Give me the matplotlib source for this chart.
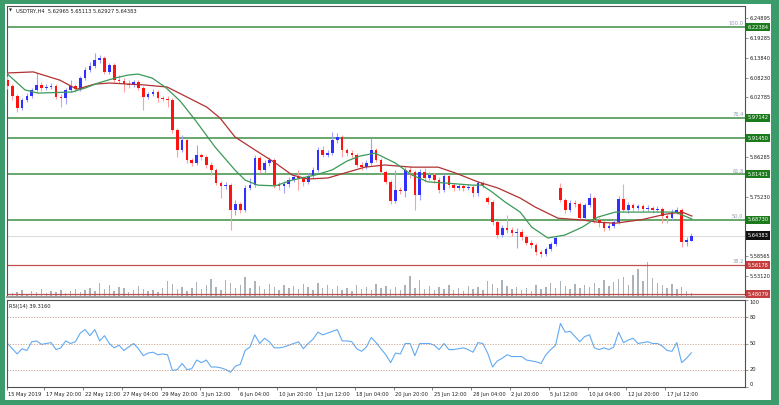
import numpy as np
import matplotlib
matplotlib.use('Agg')
import matplotlib.pyplot as plt
from matplotlib.patches import Rectangle
from matplotlib.transforms import ScaledTranslation

W, H = 779, 405

# USDTRY H4 candles (two 4H bars per candle)
opens = [6.076, 6.060, 6.032, 5.999, 6.021, 6.032, 6.049, 6.063, 6.054, 6.057,
         6.060, 6.029, 6.026, 6.049, 6.060, 6.051, 6.082, 6.104, 6.115, 6.132,
         6.138, 6.099, 6.118, 6.076, 6.074, 6.065, 6.063, 6.071, 6.054, 6.029,
         6.038, 6.043, 6.026, 6.024, 6.021, 5.937, 5.882, 5.910, 5.854, 5.846,
         5.868, 5.862, 5.840, 5.826, 5.790, 5.782, 5.784, 5.715, 5.731, 5.715,
         5.776, 5.784, 5.860, 5.826, 5.846, 5.854, 5.784, 5.782, 5.787, 5.798,
         5.807, 5.804, 5.793, 5.809, 5.826, 5.882, 5.868, 5.873, 5.910, 5.918,
         5.882, 5.873, 5.868, 5.840, 5.834, 5.846, 5.882, 5.854, 5.821, 5.793,
         5.740, 5.770, 5.768, 5.826, 5.821, 5.757, 5.821, 5.804, 5.812, 5.798,
         5.770, 5.809, 5.784, 5.776, 5.782, 5.776, 5.779, 5.762, 5.790, 5.748,
         5.737, 5.681, 5.645, 5.665, 5.659, 5.651, 5.654, 5.640, 5.623, 5.617,
         5.598, 5.593, 5.606, 5.620, 5.776, 5.743, 5.715, 5.734, 5.731, 5.692,
         5.729, 5.748, 5.687, 5.679, 5.665, 5.670, 5.681, 5.745, 5.715, 5.729,
         5.720, 5.726, 5.718, 5.720, 5.715, 5.718, 5.698, 5.692, 5.709, 5.715,
         5.626, 5.62965]
highs = [6.088, 6.065, 6.038, 6.026, 6.040, 6.054, 6.096, 6.071, 6.065, 6.068,
         6.065, 6.038, 6.054, 6.076, 6.065, 6.088, 6.113, 6.127, 6.152, 6.146,
         6.143, 6.124, 6.124, 6.090, 6.082, 6.076, 6.076, 6.076, 6.060, 6.043,
         6.051, 6.049, 6.032, 6.032, 6.026, 5.943, 5.923, 5.915, 5.860, 5.896,
         5.873, 5.868, 5.848, 5.832, 5.795, 5.793, 5.790, 5.743, 5.737, 5.784,
         5.804, 5.868, 5.865, 5.854, 5.862, 5.860, 5.793, 5.795, 5.807, 5.815,
         5.826, 5.809, 5.818, 5.834, 5.890, 5.893, 5.882, 5.932, 5.929, 5.923,
         5.887, 5.882, 5.873, 5.848, 5.854, 5.915, 5.887, 5.860, 5.826, 5.798,
         5.826, 5.779, 5.834, 5.837, 5.826, 5.829, 5.832, 5.821, 5.818, 5.807,
         5.815, 5.815, 5.790, 5.787, 5.787, 5.787, 5.784, 5.795, 5.795, 5.754,
         5.743, 5.687, 5.673, 5.701, 5.667, 5.665, 5.662, 5.645, 5.631, 5.623,
         5.604, 5.612, 5.626, 5.643, 5.790, 5.748, 5.743, 5.743, 5.737, 5.734,
         5.762, 5.754, 5.695, 5.684, 5.679, 5.690, 5.754, 5.787, 5.737, 5.734,
         5.731, 5.731, 5.729, 5.726, 5.726, 5.723, 5.704, 5.718, 5.723, 5.720,
         5.640, 5.65113]
lows = [6.051, 6.021, 5.987, 5.993, 6.015, 6.026, 6.043, 6.046, 6.049, 6.051,
        6.024, 6.001, 6.010, 6.043, 6.043, 6.046, 6.076, 6.099, 6.110, 6.124,
        6.093, 6.093, 6.071, 6.068, 6.043, 6.054, 6.057, 6.049, 5.993, 6.024,
        6.032, 6.015, 6.018, 6.001, 5.929, 5.862, 5.876, 5.846, 5.837, 5.840,
        5.854, 5.832, 5.812, 5.784, 5.748, 5.773, 5.659, 5.701, 5.706, 5.709,
        5.770, 5.779, 5.818, 5.818, 5.837, 5.776, 5.770, 5.762, 5.779, 5.793,
        5.770, 5.782, 5.787, 5.804, 5.821, 5.862, 5.862, 5.868, 5.901, 5.862,
        5.865, 5.860, 5.834, 5.826, 5.829, 5.840, 5.848, 5.815, 5.787, 5.731,
        5.734, 5.759, 5.751, 5.804, 5.715, 5.743, 5.793, 5.798, 5.790, 5.762,
        5.765, 5.776, 5.768, 5.770, 5.768, 5.770, 5.751, 5.754, 5.776, 5.731,
        5.673, 5.637, 5.640, 5.651, 5.643, 5.609, 5.631, 5.617, 5.609, 5.590,
        5.584, 5.587, 5.601, 5.615, 5.737, 5.706, 5.709, 5.723, 5.684, 5.687,
        5.723, 5.679, 5.667, 5.656, 5.659, 5.665, 5.676, 5.709, 5.706, 5.712,
        5.715, 5.709, 5.712, 5.706, 5.709, 5.679, 5.679, 5.687, 5.704, 5.612,
        5.615, 5.62927]
closes = [6.060, 6.032, 5.999, 6.021, 6.032, 6.049, 6.063, 6.054, 6.057, 6.060,
          6.029, 6.026, 6.049, 6.060, 6.051, 6.082, 6.104, 6.115, 6.132, 6.138,
          6.099, 6.118, 6.076, 6.074, 6.065, 6.063, 6.071, 6.054, 6.029, 6.038,
          6.043, 6.026, 6.024, 6.021, 5.937, 5.882, 5.910, 5.854, 5.846, 5.868,
          5.862, 5.840, 5.826, 5.790, 5.782, 5.784, 5.715, 5.731, 5.715, 5.776,
          5.784, 5.860, 5.826, 5.846, 5.854, 5.784, 5.782, 5.787, 5.798, 5.807,
          5.804, 5.793, 5.809, 5.826, 5.882, 5.868, 5.873, 5.910, 5.918, 5.882,
          5.873, 5.868, 5.840, 5.834, 5.846, 5.882, 5.854, 5.821, 5.793, 5.740,
          5.770, 5.768, 5.826, 5.821, 5.757, 5.821, 5.804, 5.812, 5.798, 5.770,
          5.809, 5.784, 5.776, 5.782, 5.776, 5.779, 5.762, 5.790, 5.784, 5.737,
          5.681, 5.645, 5.665, 5.659, 5.651, 5.654, 5.640, 5.623, 5.617, 5.598,
          5.593, 5.606, 5.620, 5.637, 5.743, 5.715, 5.734, 5.731, 5.692, 5.729,
          5.748, 5.687, 5.679, 5.665, 5.670, 5.681, 5.745, 5.715, 5.729, 5.720,
          5.726, 5.718, 5.720, 5.715, 5.718, 5.698, 5.692, 5.709, 5.715, 5.626,
          5.631, 5.64383]
volumes = [600, 400, 500, 700, 300, 600, 500, 800, 400, 600,
           500, 700, 400, 600, 800, 500, 700, 900, 600, 1400,
           800, 1200, 600, 1000, 900, 500, 700, 1100, 800, 600,
           700, 500, 900, 1600, 1300, 800, 1000, 600, 900, 1500,
           800, 1200, 1800, 1000, 700, 1700, 1400, 900, 1200, 2000,
           900, 1600, 1100, 800, 1300, 1000, 700, 1200, 900, 1100,
           800, 1300, 1000, 700, 1400, 900, 1200, 800, 1100, 700,
           900, 600, 1200, 800, 1000, 700, 1300, 900, 1100, 800,
           1000, 700, 1200, 2100, 900, 1700, 800, 1100, 700, 1000,
           800, 1200, 700, 900, 600, 1100, 800, 1000, 700, 1600,
           1300, 900, 1700, 1100, 800, 1000, 700, 900, 600, 1200,
           800, 1000, 1400, 900, 1600, 1100, 800, 1300, 900, 1200,
           1000, 1400, 900, 1700, 1100, 1500, 1800, 2000, 1200, 2200,
           2800, 1600, 3500, 1900, 1400, 1200, 900, 1300, 800, 1000,
           600, 400]
rsi = [50, 44, 38, 44, 42, 52, 53, 49, 50, 51,
       43, 45, 53, 50, 52, 62, 66, 59, 66, 53,
       59, 50, 45, 48, 42, 46, 50, 44, 36, 39,
       40, 37, 38, 37, 19, 20, 27, 20, 21, 31,
       28, 31, 23, 23, 22, 20, 17, 24, 26, 42,
       46, 60, 50, 56, 52, 45, 45, 46, 48, 50,
       52, 44, 50, 55, 63, 60, 62, 64, 66, 53,
       53, 52, 44, 41, 46, 57, 51, 44, 37, 28,
       39, 38, 50, 50, 36, 50, 50, 50, 48, 43,
       50, 43, 43, 44, 45, 43, 40, 51, 50, 39,
       23, 30, 33, 37, 35, 35, 35, 31, 30, 29,
       27, 37, 43, 48, 73, 63, 64, 58, 52, 58,
       60, 45, 43, 45, 43, 46, 63, 51, 54, 56,
       50, 51, 52, 50, 50, 47, 42, 41, 51, 28,
       33, 39.316]

# moving averages, sampled at candle index
ma_fast_at = [0, 3.6, 6.3, 13.3, 16.0, 18.7, 22.2, 24.8, 26.9, 29.8, 32.5, 35.6,
              38.7, 42.8, 46.9, 49.0, 51.6, 55.2, 58.7, 63.4, 66.9, 70.0, 72.7,
              75.8, 79.9, 83.4, 86.7, 90.2, 95.8, 97.8, 99.9, 102.6, 105.7,
              108.1, 111.4, 114.9, 118.5, 121.7, 125.3, 128.8, 133.5, 137.6, 141.1]
ma_fast = [6.093, 6.049, 6.040, 6.043, 6.054, 6.068, 6.082, 6.090, 6.093, 6.082,
           6.057, 6.018, 5.965, 5.890, 5.826, 5.798, 5.784, 5.782, 5.798, 5.812,
           5.826, 5.851, 5.865, 5.873, 5.846, 5.812, 5.793, 5.790, 5.784, 5.784,
           5.765, 5.737, 5.709, 5.667, 5.637, 5.645, 5.667, 5.695, 5.709, 5.709,
           5.709, 5.709, 5.690]
ma_slow_at = [0, 5.3, 10.8, 14.3, 18.0, 21.1, 27.9, 32.9, 37.0, 41.1, 43.8, 46.9,
              51.0, 55.2, 58.7, 62.0, 66.1, 69.6, 73.7, 77.8, 83.4, 88.8, 92.3,
              97.0, 101.1, 105.7, 108.8, 113.5, 118.5, 121.7, 125.3, 130.8,
              135.6, 139.1, 141.1]
ma_slow = [6.096, 6.099, 6.076, 6.051, 6.065, 6.068, 6.063, 6.057, 6.029, 6.001,
           5.971, 5.918, 5.882, 5.846, 5.812, 5.801, 5.804, 5.818, 5.834, 5.840,
           5.834, 5.834, 5.818, 5.793, 5.776, 5.748, 5.723, 5.692, 5.687, 5.681,
           5.678, 5.688, 5.703, 5.709, 5.698]

fib_green = [6.22384, 5.97142, 5.91450, 5.81431, 5.68730]
fib_green_names = ['100.0', '76.4', '', '61.8', '50.0']
fib_red = [5.56178, 5.48079]
fib_red_names = ['38.2', '']
price_ticks = [6.24895, 6.19285, 6.13840, 6.08230, 6.02785,
               5.86285, 5.75230, 5.58565, 5.53120]
time_labels = ['15 May 2019', '17 May 20:00', '22 May 12:00', '27 May 04:00',
               '29 May 20:00', '3 Jun 12:00', '6 Jun 04:00', '10 Jun 20:00',
               '13 Jun 12:00', '18 Jun 04:00', '20 Jun 20:00', '25 Jun 12:00',
               '28 Jun 04:00', '2 Jul 20:00', '5 Jul 12:00', '10 Jul 04:00',
               '12 Jul 20:00', '17 Jul 12:00']

FS = 3.7
frame_green = '#3b9b6b'

fig = plt.figure(figsize=(W / 100, H / 100), dpi=100)
fig.patch.set_facecolor(frame_green)
fig.add_artist(Rectangle((5 / W, 1 - 400 / H), 766 / W, 396 / H,
                         transform=fig.transFigure, fc='white', ec='none', zorder=-1))

def fr(x0, y0, x1, y1):
    return [x0 / W, 1 - y1 / H, (x1 - x0) / W, (y1 - y0) / H]

vax = fig.add_axes(fr(7, 6, 745, 297))
ax = fig.add_axes(fr(7, 6, 745, 297))
rax = fig.add_axes(fr(7, 300, 745, 387))
ax.set_zorder(2)
ax.patch.set_visible(False)

o = np.array(opens); h = np.array(highs); l = np.array(lows); c = np.array(closes)
x = np.arange(len(c))
xlim = (-0.1, 152.06)

# volume (tick volume) at the foot of the price panel
vax.bar(x, volumes, width=0.3, color='#aab2ba', linewidth=0)
vax.set_ylim(0, 29100)
vax.set_xlim(*xlim)
vax.axis('off')

# levels
for lv, nm in zip(fib_green, fib_green_names):
    ax.axhline(lv, color='#3f8f45', lw=1.1, zorder=1)
    if nm:
        ax.text(0.998, lv + 0.002, nm, transform=ax.get_yaxis_transform(),
                ha='right', va='bottom', fontsize=FS, color='#8d9db2')
for lv, nm in zip(fib_red, fib_red_names):
    ax.axhline(lv, color='#c0504d', lw=0.9, zorder=1)
    if nm:
        ax.text(0.998, lv + 0.002, nm, transform=ax.get_yaxis_transform(),
                ha='right', va='bottom', fontsize=FS, color='#8d9db2')
ax.axhline(c[-1], color='#dcdcdc', lw=0.8, zorder=1)

# candles
up = c >= o
for mask, body, wick in [(up, '#3030ff', '#a0a0ff'), (~up, '#ff1212', '#ffa0a0')]:
    ax.vlines(x[mask], l[mask], h[mask], color=wick, lw=0.8, zorder=3)
    ax.bar(x[mask], np.maximum(np.abs(c - o)[mask], 0.0015),
           bottom=np.minimum(o, c)[mask], width=0.55, color=body, linewidth=0, zorder=4)

ax.plot(ma_slow_at, ma_slow, color='#b03232', lw=0.9, zorder=5)
ax.plot(ma_fast_at, ma_fast, color='#3a9a58', lw=0.9, zorder=5)

ax.set_xlim(*xlim)
ax.set_ylim(5.4728, 6.2823)
ax.set_xticks([])
ax.yaxis.tick_right()
ax.set_yticks(price_ticks)
ax.set_yticklabels([f'{v:.5f}' for v in price_ticks])
ax.tick_params(axis='y', length=2, width=0.5, color='#707070', labelsize=FS,
               pad=1.5, labelcolor='#202020')

# boxed level prices
ytr = ax.get_yaxis_transform()
for lv in fib_green:
    ax.text(1.003, lv, f'{lv:.5f}', transform=ytr, ha='left', va='center',
            fontsize=FS, color='white', zorder=10, clip_on=False,
            bbox=dict(boxstyle='square,pad=0.3', fc='#1b7a1b', ec='none'))
for lv in fib_red:
    ax.text(1.003, lv, f'{lv:.5f}', transform=ytr, ha='left', va='center',
            fontsize=FS, color='white', zorder=10, clip_on=False,
            bbox=dict(boxstyle='square,pad=0.3', fc='#c43c3c', ec='none'))
ax.text(1.003, c[-1], f'{c[-1]:.5f}', transform=ytr, ha='left', va='center',
        fontsize=FS, color='white', zorder=10, clip_on=False,
        bbox=dict(boxstyle='square,pad=0.3', fc='#111111', ec='none'))

ax.text(0.0025, 0.983, '\u25bc', transform=ax.transAxes, ha='left', va='center',
        fontsize=2.8, color='#202020')
ax.text(0.012, 0.983, f'USDTRY,H4  {o[-1]:.5f} {h[-1]:.5f} {l[-1]:.5f} {c[-1]:.5f}',
        transform=ax.transAxes, ha='left', va='center', fontsize=FS, color='#202020')

for a in (ax, rax):
    for s in a.spines.values():
        s.set_color('#505050')
        s.set_linewidth(0.8)
ax.spines['bottom'].set_color('#9a9a9a')
ax.spines['bottom'].set_linewidth(1.5)

# RSI panel
rax.plot(x, rsi, color='#62aaf2', lw=0.8)
for lv in (20, 50, 80):
    rax.axhline(lv, color='#b8866b', lw=0.6, dashes=(1.2, 2))
rax.set_ylim(0, 100)
rax.set_yticks([0, 20, 50, 80, 100])
rax.yaxis.tick_right()
rax.set_yticklabels([])
rax.tick_params(axis='y', length=2, width=0.5, color='#707070')
for v, va in [(100, 'top'), (80, 'center'), (50, 'center'), (20, 'center'), (0, 'bottom')]:
    rax.text(1.006, v, str(v), transform=rax.get_yaxis_transform(), ha='left',
             va=va, fontsize=FS, color='#202020', clip_on=False)
rax.text(0.003, 0.95, f'RSI(14) {rsi[-1]:.4f}', transform=rax.transAxes,
         ha='left', va='top', fontsize=FS, color='#202020')

tpos = [-0.1] + [7.6 + 8.0 * k for k in range(len(time_labels) - 1)]
rax.set_xlim(*xlim)
rax.set_xticks(tpos)
rax.set_xticklabels(time_labels, ha='left')
rax.tick_params(axis='x', length=2.5, width=0.5, color='#505050', labelsize=FS,
                pad=1.2, labelcolor='#202020')
shift = ScaledTranslation(1.5 / 100, 0, fig.dpi_scale_trans)
for lab in rax.get_xticklabels():
    lab.set_transform(lab.get_transform() + shift)

fig.savefig('out.png', dpi=100, facecolor=fig.get_facecolor())
